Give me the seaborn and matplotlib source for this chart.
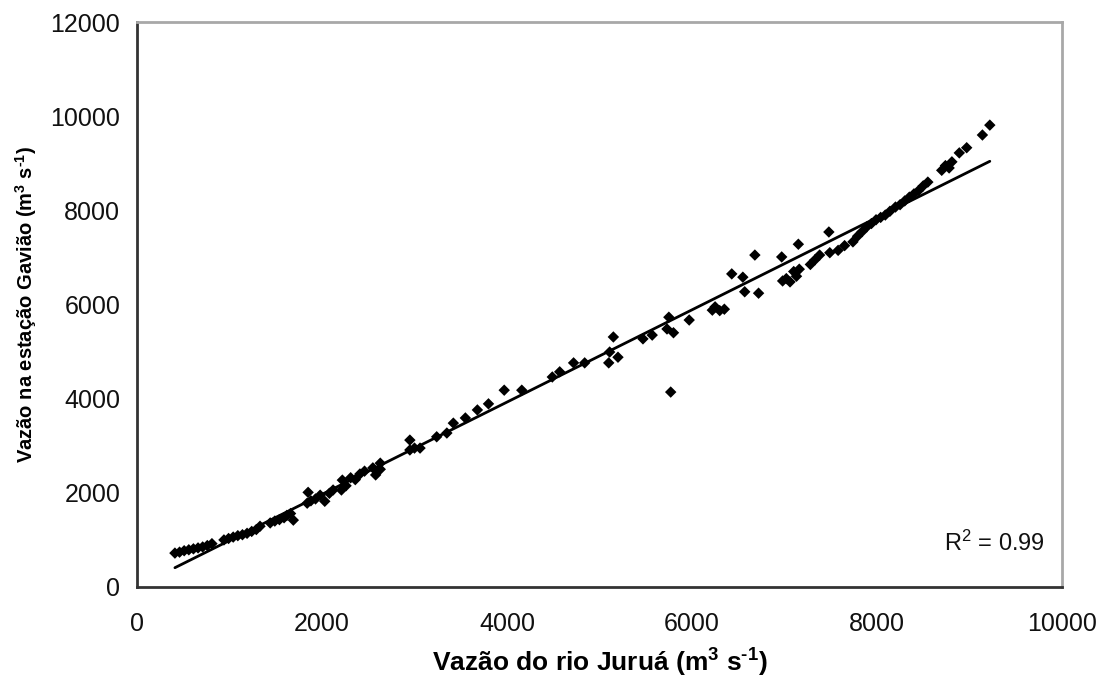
import numpy as np
import pandas as pd
import matplotlib
matplotlib.use("Agg")
import matplotlib.pyplot as plt
import seaborn as sns

# vazões (m3/s)
jurua = [410, 460, 510, 560, 610, 660, 710, 760, 810,
         940, 990, 1040, 1090, 1140, 1190, 1240, 1290, 1330,
         1440, 1490, 1540, 1590, 1620, 1660, 1690,
         1850, 1840, 1880, 1930, 1980, 2030, 2080, 2120,
         2210, 2220, 2260, 2310, 2360, 2410, 2460, 2550, 2580, 2630, 2630,
         2950, 2950, 3000, 3060, 3240, 3350, 3420, 3550, 3680, 3800,
         3970, 4160, 4490, 4570, 4720, 4840,
         5100, 5110, 5150, 5200, 5470, 5570,
         5730, 5750, 5770, 5800, 5970, 6220, 6250, 6300, 6350,
         6430, 6550, 6570, 6680, 6720, 6970, 6980, 7020, 7060, 7100, 7130,
         7150, 7160, 7280, 7330, 7380, 7480, 7490, 7580, 7650, 7740,
         7790, 7840, 7890, 7940, 7990, 8040, 8090, 8140, 8200, 8250,
         8300, 8350, 8400, 8450, 8500, 8550,
         8700, 8740, 8780, 8810, 8890, 8970, 9140, 9220]
gaviao = [720, 740, 770, 790, 810, 830, 850, 880, 920,
          1000, 1030, 1060, 1090, 1110, 1140, 1180, 1220, 1290,
          1360, 1400, 1430, 1470, 1520, 1560, 1420,
          2010, 1780, 1830, 1870, 1950, 1820, 1990, 2060,
          2060, 2270, 2150, 2320, 2280, 2400, 2460, 2530, 2380, 2630, 2500,
          2910, 3120, 2950, 2950, 3190, 3270, 3480, 3590, 3760, 3890,
          4180, 4180, 4460, 4570, 4760, 4760,
          4760, 4990, 5310, 4880, 5270, 5350,
          5480, 5730, 4140, 5400, 5670, 5880, 5950, 5870, 5900,
          6650, 6580, 6270, 7050, 6240, 7010, 6500, 6550, 6480, 6700, 6600,
          7280, 6750, 6850, 6950, 7050, 7540, 7100, 7150, 7250, 7330,
          7450, 7550, 7650, 7720, 7800, 7850, 7900, 7980, 8070, 8120,
          8200, 8280, 8350, 8420, 8520, 8600,
          8850, 8950, 8900, 9030, 9220, 9330, 9600, 9810]

df = pd.DataFrame({"jurua": jurua, "gaviao": gaviao})

sns.set_style("white")
plt.rcParams["font.family"] = ["Liberation Sans", "DejaVu Sans"]
plt.rcParams["mathtext.default"] = "regular"

fig = plt.figure(figsize=(11.12, 6.9), dpi=100)
ax = fig.add_axes([0.1232, 0.1493, 0.8318, 0.8188])

sns.regplot(data=df, x="jurua", y="gaviao", scatter=False, ci=None,
            color="black", line_kws={"linewidth": 2}, ax=ax)
sns.scatterplot(data=df, x="jurua", y="gaviao", marker="D", s=34,
                color="black", edgecolor="none", ax=ax, zorder=3)

ax.set_xlim(0, 10000)
ax.set_ylim(0, 12000)
ax.set_xticks(range(0, 10001, 2000))
ax.set_yticks(range(0, 12001, 2000))
ax.tick_params(axis="both", direction="out", length=6, width=1.5,
               color="#333333", labelcolor="#111111", labelsize=18)
ax.tick_params(axis="x", pad=12)
ax.tick_params(axis="y", pad=6)

for side in ["left", "bottom"]:
    ax.spines[side].set_color("#333333")
    ax.spines[side].set_linewidth(2)
for side in ["top", "right"]:
    ax.spines[side].set_color("#a8a8a8")
    ax.spines[side].set_linewidth(2)

ax.set_xlabel("Vazão do rio Juruá (m$^3$ s$^{\u20101}$)", fontsize=19,
              fontweight="bold", labelpad=8, color="black")
ax.set_ylabel("Vazão na estação Gavião (m$^3$ s$^{\u20101}$)", fontsize=14.5,
              fontweight="bold", labelpad=8, color="black")

ax.text(9816, 935, "R$^2$ = 0.99", ha="right", va="center", fontsize=17,
        color="#111111")

fig.savefig("out.png", dpi=100, facecolor="white")
